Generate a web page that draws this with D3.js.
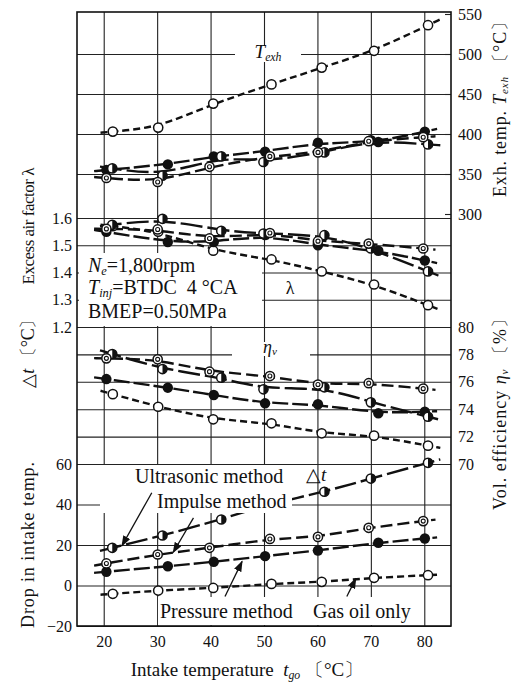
<html>
<head>
<style>
  body { margin: 0; background: #fff; }
</style>
</head>
<body>
<script src="https://d3js.org/d3.v7.min.js"></script>
<svg id="chart" width="531" height="683"></svg>
<script>
// intake temperature of each run (x), one array per fuel / measuring method
const tempOpen = [21.7, 30.2, 40.5, 51.4, 60.8, 70.6, 80.7];
const tempFilled = [20.5, 32.0, 40.6, 50.2, 60.1, 71.4, 80.1];
const tempHalf = [21.6, 31.0, 42.0, 49.9, 61.3, 70.0, 80.7];
const tempDouble = [20.5, 30.1, 39.8, 51.1, 60.1, 69.6, 79.8];

// exhaust temperature [°C]
const texhOpen = [403, 408, 438, 462, 483, 504, 536];
const texhFilled = [355, 362, 372, 378, 389, 390, 403];
const texhHalf = [357, 348, 372, 365, 377, 392, 387];
const texhDouble = [345, 340, 359, 372, 377, 391, 396];

// excess air factor
const lambdaOpen = [1.57, 1.55, 1.48, 1.448, 1.404, 1.356, 1.28];
const lambdaFilled = [1.549, 1.512, 1.512, 1.537, 1.5, 1.48, 1.444];
const lambdaHalf = [1.575, 1.597, 1.553, 1.543, 1.537, 1.488, 1.404];
const lambdaDouble = [1.56, 1.558, 1.525, 1.545, 1.515, 1.506, 1.488];

// volumetric efficiency [%]
const etaOpen = [75.1, 74.18, 73.26, 72.97, 72.24, 72.07, 71.34];
const etaFilled = [76.2, 75.57, 75.04, 74.43, 74.36, 73.7, 73.82];
const etaHalf = [78.03, 76.93, 76.3, 75.45, 75.6, 74.5, 73.45];
const etaDouble = [77.71, 77.64, 76.74, 76.42, 75.8, 75.9, 75.5];

// drop in intake temperature [°C]
const dropOpen = [-4.1, -2.5, -1.2, 0.8, 1.8, 3.8, 5.1];
const dropFilled = [6.8, 9.5, 11.7, 14.5, 17.3, 21.1, 23.2];
const dropHalf = [18.6, 24.7, 32.6, 39.5, 46.3, 52.8, 60.6];
const dropDouble = [10.9, 15.3, 18.6, 23.0, 24.0, 28.5, 31.8];

const xTicks = [20, 30, 40, 50, 60, 70, 80];
const texhTicks = [300, 350, 400, 450, 500, 550];
const texhGrid = [350, 400, 450, 500];
const lambdaTicks = [1.2, 1.3, 1.4, 1.5, 1.6];
const etaTicks = [70, 72, 74, 76, 78, 80];
const dropTicks = [-20, 0, 20, 40, 60];

const series = [
  { kind: 'open', dash: '7,4', temp: tempOpen, texh: texhOpen, lambda: lambdaOpen, eta: etaOpen, drop: dropOpen },
  { kind: 'filled', dash: '16,4', temp: tempFilled, texh: texhFilled, lambda: lambdaFilled, eta: etaFilled, drop: dropFilled },
  { kind: 'half', dash: '22,5', temp: tempHalf, texh: texhHalf, lambda: lambdaHalf, eta: etaHalf, drop: dropHalf },
  { kind: 'double', dash: '12,5', temp: tempDouble, texh: texhDouble, lambda: lambdaDouble, eta: etaDouble, drop: dropDouble },
];

const FONT = '"Liberation Serif"';
const L = 77, R = 451, T = 12, B = 626;
const svg = d3.select('#chart');

const x = d3.scaleLinear().domain([15, 85]).range([L, R]);
const yT = d3.scaleLinear().domain([350, 550]).range([174, 14]);
const yL = d3.scaleLinear().domain([1.2, 1.6]).range([327, 218]);
const yE = d3.scaleLinear().domain([70, 80]).range([464, 327]);
const yD = d3.scaleLinear().domain([-20, 60]).range([626, 464]);

// arrow head
svg.append('defs').append('marker')
  .attr('id', 'head').attr('markerUnits', 'userSpaceOnUse')
  .attr('markerWidth', 11).attr('markerHeight', 8)
  .attr('refX', 10).attr('refY', 4).attr('orient', 'auto')
  .append('path').attr('d', 'M0,0 L11,4 L0,8 Z').attr('fill', '#111');

const styleAxis = (g) => {
  g.select('.domain').remove();
  g.selectAll('line').attr('stroke', '#222').attr('stroke-width', 1.1);
  g.selectAll('text').attr('fill', '#111')
    .style('font-family', FONT).style('font-size', '16px');
};

// grid + axes
svg.append('g').attr('transform', `translate(0,${B})`)
  .call(d3.axisBottom(x).tickValues(xTicks).tickSize(-(B - T)).tickPadding(10))
  .call(styleAxis);

svg.append('g').attr('transform', `translate(${L},0)`)
  .call(d3.axisLeft(yL).tickValues(lambdaTicks).tickSize(-(R - L)).tickPadding(5).tickFormat(d3.format('.1f')))
  .call(styleAxis);

svg.append('g').attr('transform', `translate(${L},0)`)
  .call(d3.axisLeft(yD).tickValues(dropTicks).tickSize(-(R - L)).tickPadding(5)
    .tickFormat((d) => (d < 0 ? '\u2212' + Math.abs(d) : d)))
  .call(styleAxis);

svg.append('g').attr('transform', `translate(${L},0)`)
  .call(d3.axisLeft(yT).tickValues(texhGrid).tickSize(-(R - L)).tickFormat(''))
  .call(styleAxis);

svg.append('g').attr('transform', `translate(${R},0)`)
  .call(d3.axisRight(yT).tickValues(texhTicks).tickSize(-6).tickPadding(7))
  .call(styleAxis);

svg.append('g').attr('transform', `translate(${R},0)`)
  .call(d3.axisRight(yE).tickValues(etaTicks).tickSize(-(R - L)).tickPadding(7))
  .call(styleAxis);

// white backgrounds of the labels sitting on the grid
const bg = (x0, y0, w, h) =>
  svg.append('rect').attr('x', x0).attr('y', y0).attr('width', w).attr('height', h).attr('fill', '#fff');
bg(79, 253, 183, 73);
bg(235, 46, 66, 16);
bg(232, 342, 78, 14);

// series
const extend = (pts) => {
  const n = pts.length, e = 2.3;
  const s0 = (pts[1][1] - pts[0][1]) / (pts[1][0] - pts[0][0]);
  const s1 = (pts[n - 1][1] - pts[n - 2][1]) / (pts[n - 1][0] - pts[n - 2][0]);
  return [[pts[0][0] - e, pts[0][1] - s0 * e], ...pts, [pts[n - 1][0] + e, pts[n - 1][1] + s1 * e]];
};

const drawMarker = (g, kind, cx, cy) => {
  const r = 4.6;
  if (kind === 'filled') {
    g.append('circle').attr('cx', cx).attr('cy', cy).attr('r', r + 0.6).attr('fill', '#111');
    return;
  }
  g.append('circle').attr('cx', cx).attr('cy', cy).attr('r', r)
    .attr('fill', '#fff').attr('stroke', '#111').attr('stroke-width', 1.5);
  if (kind === 'half') {
    g.append('path')
      .attr('d', `M${cx},${cy - r} A${r},${r} 0 0 1 ${cx},${cy + r} Z`)
      .attr('fill', '#111');
  }
  if (kind === 'double') {
    g.append('circle').attr('cx', cx).attr('cy', cy).attr('r', 2)
      .attr('fill', 'none').attr('stroke', '#111').attr('stroke-width', 1.1);
  }
};

const panels = [
  { key: 'texh', y: yT },
  { key: 'lambda', y: yL },
  { key: 'eta', y: yE },
  { key: 'drop', y: yD },
];

const linesG = svg.append('g');
const marksG = svg.append('g');
panels.forEach((p) => {
  const line = d3.line().x((d) => x(d[0])).y((d) => p.y(d[1])).curve(d3.curveBasis);
  series.forEach((s) => {
    const pts = s.temp.map((t, i) => [t, s[p.key][i]]);
    linesG.append('path')
      .attr('d', line(extend(pts)))
      .attr('fill', 'none').attr('stroke', '#111')
      .attr('stroke-width', 2.4).attr('stroke-dasharray', s.dash);
  });
});
panels.forEach((p) => {
  series.forEach((s) => {
    s.temp.forEach((t, i) => drawMarker(marksG, s.kind, x(t), p.y(s[p.key][i])));
  });
});

// label backgrounds in the lower panel (they hide parts of the lines)
bg(100, 465, 192, 48);
bg(158, 597, 262, 28);

// texts
const addText = (x0, y0, parts, size, anchor) => {
  const t = svg.append('text').attr('x', x0).attr('y', y0)
    .style('font-family', FONT).style('font-size', size + 'px')
    .attr('fill', '#111').attr('text-anchor', anchor || 'start');
  parts.forEach((p) => {
    const ts = t.append('tspan').text(p.t);
    if (p.i) ts.style('font-style', 'italic');
    if (p.sub) ts.style('font-size', size * 0.62 + 'px').attr('baseline-shift', '-22%');
  });
  return t;
};

addText(268, 58, [{ t: 'T', i: 1 }, { t: 'exh', i: 1, sub: 1 }], 19, 'middle');
addText(290, 294, [{ t: '\u03bb' }], 18, 'middle');
addText(270, 353, [{ t: '\u03b7', i: 1 }, { t: 'v', i: 1, sub: 1 }], 18, 'middle');

addText(88, 272, [{ t: 'N', i: 1 }, { t: 'e', i: 1, sub: 1 }, { t: '=1,800rpm' }], 20);
addText(88, 294, [{ t: 'T', i: 1 }, { t: 'inj', i: 1, sub: 1 }, { t: '=BTDC\u00a0\u00a04\u00a0\u00b0CA' }], 20);
addText(88, 318, [{ t: 'BMEP=0.50MPa' }], 20);

addText(135, 483, [{ t: 'Ultrasonic method' }], 20);
addText(306, 481, [{ t: '\u25b3' }, { t: 't', i: 1 }], 19);
addText(157, 508, [{ t: 'Impulse method' }], 20);
addText(160, 618, [{ t: 'Pressure method' }], 20);
addText(313, 618, [{ t: 'Gas oil only' }], 20);

// axis titles
addText(247, 676, [{ t: 'Intake temperature\u00a0\u00a0' }, { t: 't', i: 1 }, { t: 'go', i: 1, sub: 1 }, { t: ' \u3014\u00b0C\u3015' }], 19, 'middle');

const vText = (cx, cy, parts, size, len) => {
  const t = addText(0, 0, parts, size, 'middle')
    .attr('transform', `translate(${cx},${cy}) rotate(-90)`);
  if (len) t.attr('textLength', len).attr('lengthAdjust', 'spacing');
};
vText(34, 226, [{ t: 'Excess air factor ' }, { t: '\u03bb' }], 17, 117);
vText(34, 545, [{ t: 'Drop in intake temp.' }], 18, 166);
vText(34, 349, [{ t: '\u25b3' }, { t: 't', i: 1 }, { t: ' \u3014\u00b0C\u3015' }], 18, 77);
vText(506, 105, [{ t: 'Exh. temp. ' }, { t: 'T', i: 1 }, { t: 'exh', i: 1, sub: 1 }, { t: ' \u3014\u00b0C\u3015' }], 18, 184);
vText(506, 410, [{ t: 'Vol. efficiency ' }, { t: '\u03b7', i: 1 }, { t: 'v', i: 1, sub: 1 }, { t: ' \u3014%\u3015' }], 18, 200);

// arrows (in data units of the lower panel: temperature, drop)
const arrows = [
  [29.0, 45.8, 23.4, 19.6],
  [36.8, 33.4, 33.0, 16.3],
  [42.7, -5.4, 45.9, 11.9],
  [65.5, -5.4, 67.2, 3.5],
];
svg.append('g').selectAll('line').data(arrows).enter().append('line')
  .attr('x1', (d) => x(d[0])).attr('y1', (d) => yD(d[1]))
  .attr('x2', (d) => x(d[2])).attr('y2', (d) => yD(d[3]))
  .attr('stroke', '#111').attr('stroke-width', 1.3)
  .attr('marker-end', 'url(#head)');

// frame
svg.append('rect').attr('x', L).attr('y', T).attr('width', R - L).attr('height', B - T)
  .attr('fill', 'none').attr('stroke', '#111').attr('stroke-width', 1.6);
</script>
</body>
</html>
